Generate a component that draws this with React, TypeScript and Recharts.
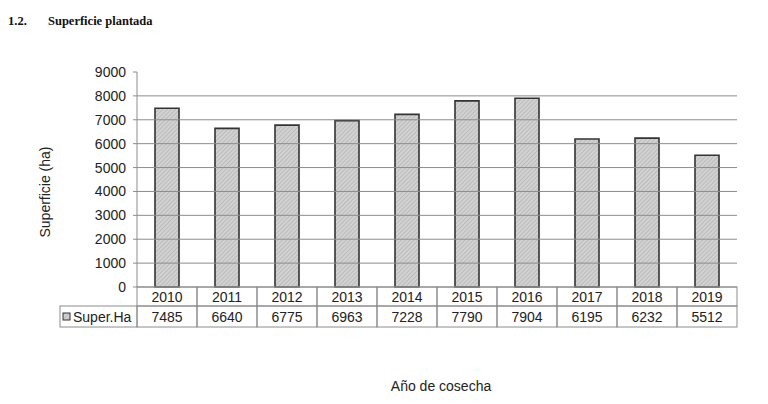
import React from "react";
import { BarChart, Bar, XAxis, YAxis, ReferenceLine } from "recharts";

const years = ["2010", "2011", "2012", "2013", "2014", "2015", "2016", "2017", "2018", "2019"];
const superHa = [7485, 6640, 6775, 6963, 7228, 7790, 7904, 6195, 6232, 5512];
const yTicks = [0, 1000, 2000, 3000, 4000, 5000, 6000, 7000, 8000, 9000];
const gridValues = [1000, 2000, 3000, 4000, 5000, 6000, 7000, 8000];
const seriesName = "Super.Ha";

const data = years.map((y, i) => ({ year: y, value: superHa[i] }));

const FONT = "'Liberation Sans', Arial, sans-serif";
const LINE = "#8c8c8c";
const FS = 14;

const TableTick = (props: any) => {
  const { x, y, width, payload, index } = props;
  const bw = width / years.length;
  const left = x - bw / 2;
  const r1 = 19;
  const r2 = 21;
  const i = payload.index ?? index;
  return (
    <g>
      <rect x={left} y={y} width={bw} height={r1} fill="none" stroke={LINE} strokeWidth={1} />
      <rect x={left} y={y + r1} width={bw} height={r2} fill="none" stroke={LINE} strokeWidth={1} />
      <text x={x} y={y + 15} textAnchor="middle" fontSize={FS} fontFamily={FONT} fill="#222">
        {payload.value}
      </text>
      <text x={x} y={y + r1 + 16} textAnchor="middle" fontSize={FS} fontFamily={FONT} fill="#222">
        {superHa[i]}
      </text>
      {i === 0 && (
        <g>
          <rect x={left - 77} y={y + r1} width={77} height={r2} fill="none" stroke={LINE} strokeWidth={1} />
          <rect x={left - 74} y={y + r1 + 7} width={7} height={7} fill="url(#hatch)" stroke="#333" strokeWidth={1} />
          <text x={left - 64} y={y + r1 + 16} textAnchor="start" fontSize={FS} fontFamily={FONT} fill="#222">
            {seriesName}
          </text>
        </g>
      )}
    </g>
  );
};

export default function App() {
  return (
    <div style={{ position: "absolute", left: 0, top: 0, width: 768, height: 404, background: "#fff" }}>
      <div
        style={{
          position: "absolute",
          left: 8,
          top: 14,
          fontFamily: "'Liberation Serif', 'Times New Roman', serif",
          fontWeight: "bold",
          fontSize: 12.5,
          color: "#111",
          whiteSpace: "nowrap",
        }}
      >
        <span>1.2.</span>
        <span style={{ position: "absolute", left: 40 }}>Superficie plantada</span>
      </div>
      <div
        style={{
          position: "absolute",
          left: 45,
          top: 192,
          transform: "translate(-50%, -50%) rotate(-90deg)",
          fontFamily: FONT,
          fontSize: 14,
          color: "#222",
          whiteSpace: "nowrap",
        }}
      >
        Superficie (ha)
      </div>
      <div
        style={{
          position: "absolute",
          left: 441,
          top: 386,
          transform: "translate(-50%, -50%)",
          fontFamily: FONT,
          fontSize: 14,
          color: "#222",
          whiteSpace: "nowrap",
        }}
      >
        Año de cosecha
      </div>
      <div style={{ position: "absolute", left: 0, top: 0 }}>
        <BarChart
          width={768}
          height={404}
          data={data}
          margin={{ top: 72, right: 31, left: 77, bottom: 77 }}
          barCategoryGap={0}
        >
          <defs>
            <pattern id="hatch" width="3" height="3" patternUnits="userSpaceOnUse" patternTransform="rotate(45)">
              <rect width="3" height="3" fill="#d2d2d2" />
              <line x1="0" y1="0" x2="0" y2="3" stroke="#a8a8a8" strokeWidth="1.1" />
            </pattern>
          </defs>
          {gridValues.map((v) => (
            <ReferenceLine key={v} y={v} stroke={LINE} strokeWidth={1} />
          ))}
          <XAxis
            dataKey="year"
            height={40}
            tickLine={false}
            tickSize={0}
            tickMargin={0}
            axisLine={{ stroke: LINE }}
            tick={<TableTick />}
            interval={0}
          />
          <YAxis
            width={60}
            domain={[0, 9000]}
            ticks={yTicks}
            interval={0}
            tickSize={4}
            tickMargin={7}
            axisLine={{ stroke: LINE }}
            tickLine={{ stroke: LINE }}
            tick={{ fontSize: FS, fontFamily: FONT, fill: "#222" }}
          />
          <Bar
            dataKey="value"
            barSize={24}
            fill="url(#hatch)"
            stroke="#333"
            strokeWidth={1.6}
            isAnimationActive={false}
          />
        </BarChart>
      </div>
    </div>
  );
}
